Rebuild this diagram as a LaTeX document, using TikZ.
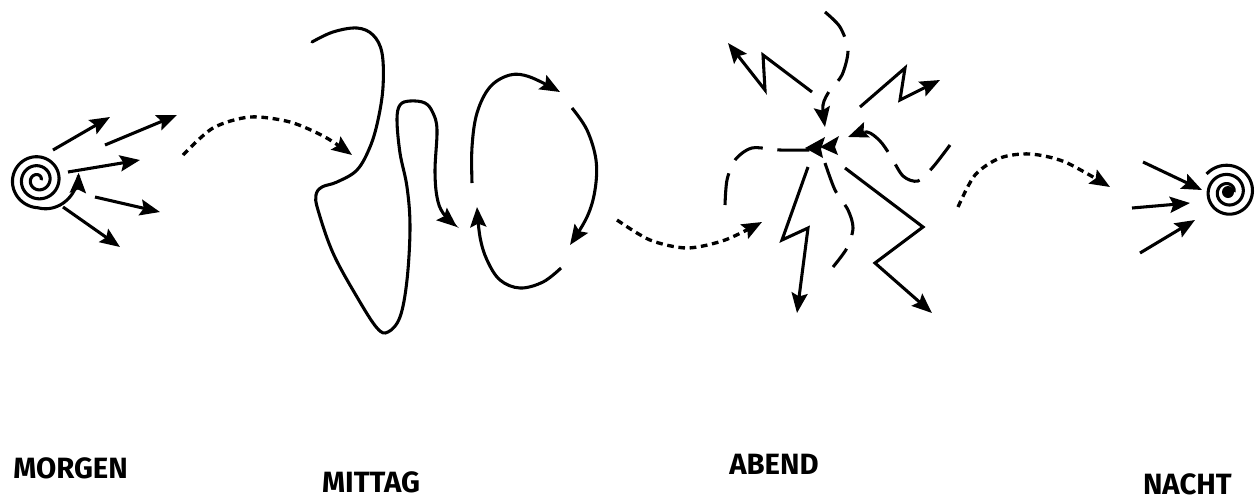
\documentclass[tikz,border=0pt]{standalone}
\usepackage{fontspec}
\setmainfont{Fira Sans}
\usetikzlibrary{arrows.meta}
\begin{document}
\begin{tikzpicture}[x=0.75pt,y=-0.75pt,
  ln/.style={line width=2.3pt},
  tip/.style={-{Stealth[length=15pt,width=12pt,inset=2.5pt]}},
  dots/.style={line width=2.5pt, dash pattern=on 5pt off 3.5pt},
  longdash/.style={line width=2.3pt, dash pattern=on 24pt off 11pt},
  lbl/.style={font=\fontsize{22}{26}\selectfont\bfseries, inner sep=0pt}]
\useasboundingbox (0,0) rectangle (1255,501);
\fill[white] (0,0) rectangle (1255,501);

% ---------- MORGEN ----------
\draw[ln,tip] plot[domain=0:1090, samples=240, variable=\t, smooth]
  ({38+(3+\t/40+0.11*max(\t-990,0))*cos(\t)}, {180-(3+\t/40+0.11*max(\t-990,0))*sin(\t)});
\draw[ln,tip] (53,150) -- (110,117);
\draw[ln,tip] (105,145) -- (177,115);
\draw[ln,tip] (68,172) -- (140,160);
\draw[ln,tip] (95,197) -- (160,212);
\draw[ln,tip] (63,207) -- (120,247);

% dotted arrow 1
\draw[dots,tip] plot[smooth] coordinates {(183,155) (213,128) (250,117) (290,122) (325,137) (352,155)};

% ---------- MITTAG ----------
\draw[ln,tip,line cap=round] plot[smooth, tension=0.6] coordinates {
 (312,42) (333,32) (357,28) (373,35) (382,53) (383,87) (378,120) (370,147)
 (357,170) (337,182) (322,187) (316,195) (318,210) (333,253) (357,297)
 (377,328) (388,332) (400,317) (407,280) (410,227) (407,187) (400,153)
 (397,120) (400,105) (410,101) (425,103) (433,113) (437,130) (435,170)
 (437,197) (443,213) (457,227)};
\draw[ln,tip] plot[smooth, tension=0.6] coordinates {
 (472,183) (472,147) (477,113) (490,87) (510,75) (530,77) (560,92)};
\draw[ln,tip] plot[smooth, tension=0.6] coordinates {
 (572,108) (587,130) (596,160) (595,190) (587,217) (570,245)};
\draw[ln,tip] plot[smooth, tension=0.6] coordinates {
 (561,268) (543,282) (520,288) (500,280) (487,260) (480,237) (477,207)};

% dotted arrow 2
\draw[dots,tip] plot[smooth] coordinates {(617,220) (650,240) (687,248) (725,240) (762,222)};

% ---------- ABEND ----------
\draw[ln,tip] (812,92) -- (763,55) -- (765,90) -- (728,43);
\draw[ln,tip] (860,107) -- (905,68) -- (900,100) -- (940,80);
\draw[ln,tip] (808,167) -- (782,240) -- (808,228) -- (797,313);
\draw[ln,tip] (845,168) -- (923,227) -- (875,263) -- (932,313);
\draw[ln,longdash,tip] plot[smooth] coordinates {(825,12) (840,27) (848,50) (842,75) (830,90) (823,105) (825,127)};
\draw[ln,longdash] plot[smooth] coordinates {(725,205) (727,180) (735,160) (752,148) (780,150) (812,150)};
\fill (805,148) -- (825,137) -- (821,149) -- (823,158) -- cycle;
\fill (820,147) -- (839,136) -- (835,147) -- (838,155) -- cycle;
\draw[ln,longdash,tip] plot[smooth] coordinates {(950,145) (933,167) (918,181) (903,176) (890,155) (880,141) (867,132) (848,137)};
\draw[ln,longdash] plot[smooth] coordinates {(825,163) (835,190) (848,210) (853,228) (847,248) (833,267)};

% dotted arrow 3
\draw[dots,tip] plot[smooth] coordinates {(958,207) (975,175) (1000,158) (1030,154) (1065,162) (1110,187)};

% ---------- NACHT ----------
\draw[ln] plot[domain=0:860, samples=200, variable=\t, smooth]
  ({1228+(6+\t/860*22)*cos(\t)}, {192-(6+\t/860*22)*sin(\t)});
\fill (1228,192) circle[radius=6];
\draw[ln,tip] (1143,162) -- (1202,190);
\draw[ln,tip] (1132,208) -- (1190,203);
\draw[ln,tip] (1140,253) -- (1195,220);

% ---------- labels ----------
\node[lbl, anchor=base west] (morgen) at (13,478) {MORGEN};
\node[lbl, anchor=base] (mittag) at (371,492) {MITTAG};
\node[lbl, anchor=base] (abend) at (774,474) {ABEND};
\node[lbl, anchor=base east] (nacht) at (1232,494) {NACHT};
\end{tikzpicture}
\end{document}
